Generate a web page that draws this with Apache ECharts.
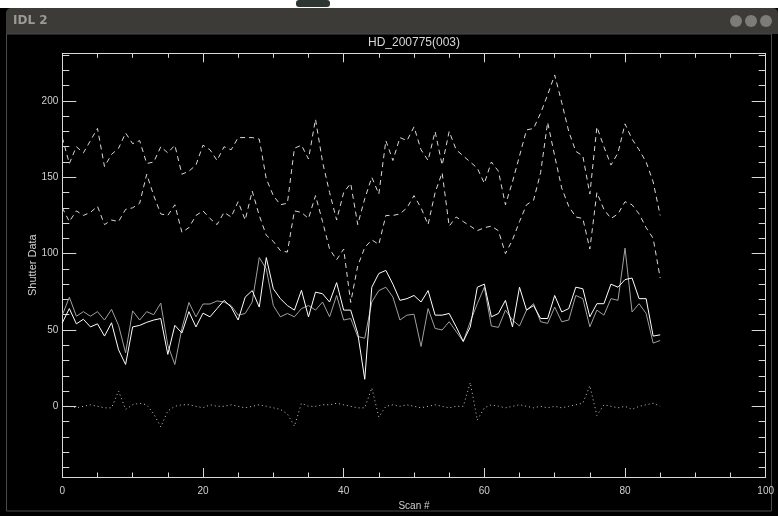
<!DOCTYPE html>
<html><head><meta charset="utf-8">
<script src="https://cdn.jsdelivr.net/npm/echarts@6/dist/echarts.min.js"></script>
<style>html,body{margin:0;padding:0;background:#ffffff}#c{width:778px;height:516px}</style>
</head><body><div id="c"></div>
<script>
const scan = [0,1,2,3,4,5,6,7,8,9,10,11,12,13,14,15,16,17,18,19,20,21,22,23,24,25,26,27,28,29,30,31,32,33,34,35,36,37,38,39,40,41,42,43,44,45,46,47,48,49,50,51,52,53,54,55,56,57,58,59,60,61,62,63,64,65,66,67,68,69,70,71,72,73,74,75,76,77,78,79,80,81,82,83,84,85];
const upperDashed = [176,159,170,166,174,182,157,165,169,179,172,174,159,160,170,166,171,152,154,158,171,168,161,170,168,176,176,176,175,149,138,132,133,169,171,162,188,160,140,122,140,146,119,136,150,139,174,161,176,174,183,168,161,180,158,180,168,164,160,156,146,160,154,132,147,164,181,182,192,204,217,199,180,167,164,139,183,170,158,166,185,175,168,160,147,125];
const lowerDashed = [130,121,128,125,127,131,119,122,121,129,130,133,152,138,126,125,132,114,117,125,128,123,119,127,124,134,122,141,125,112,108,102,101,128,127,123,138,121,103,96,103,68,92,104,109,106,125,125,126,130,138,130,119,140,153,118,124,121,118,115,117,118,115,100,109,121,132,135,153,186,164,143,131,124,123,103,140,129,123,126,134,132,126,117,110,84];
const whiteLine = [54.7,64,54,57,52,54,46,54.7,37,27.4,52,53,55,56.5,57.5,34,53,48,62,52,61,58.6,64,69.4,65,56.5,71.5,75.8,65,97.4,77,70.5,66,63,76,58.6,74.8,73.7,68.3,81,63,63,47.8,17.7,78,87,89,80,69.4,70.5,72.6,68.3,75.8,59.7,59.7,60.8,52,42.5,52,78,80,58.6,60.8,69.4,52,78,63,66,57.5,57.5,72.6,61.8,64,78,77,58.6,67.2,67.2,80,78,83,84,70.5,70.5,46,46.8];
const grayLine = [59.7,71.5,59,62,59,62,56.5,63.5,53,35,62.5,56.5,62,60,67.6,40,27.4,51,68,58.6,67,67,69,68.3,66,59.7,60.8,68.3,97.4,90,66,58.6,60.8,58.6,64,66,63,68.3,58.6,72.6,56.5,57.5,45.7,44.6,68.3,75.8,78,71.6,56.5,59.7,60.3,39.2,64,51,50,55.4,48.9,42.5,55.4,67.2,78,52.6,51.7,63,56.5,52.6,63,67.2,55.4,54.3,65,55.4,56.5,72.6,70.5,52.1,63,59.7,70.5,69.4,103.6,61.8,67.2,60.8,41.4,43.1];
const dotted = [0,0,-1,0,1,0,-1,-1,10,-2,1,2,1,-5,-13.5,-3,0,1,1,0,-1,1,0,0,1,0,-1,0,1,0,-1,-2,-5,-13,2,0,0,1,1,2,1,0,-1,-1,12,-7,0,1,0,1,0,-1,0,1,0,-1,0,0,15.5,-9,-1,1,0,-1,0,1,0,-1,0,-1,0,-1,0,1,2,13.5,-6,1,0,-1,0,-2,0,1,2,0];
const xTickValues = [0,20,40,60,80,100];
const yMajorTicks = [0,50,100,150,200];
const yMinorTicks = [-40,-30,-20,-10,10,20,30,40,60,70,80,90,110,120,130,140,160,170,180,190,210,220,230];
const plotTitle = 'HD_200775(003)';
const xName = 'Scan #';
const yName = 'Shutter Data';
const windowTitle = 'IDL 2';

const AX = '#d8d8d8';
const FONT = 'Liberation Sans';
const Y_MIN = -46.3, Y_MAX = 231.2;
function pairs(arr){ return scan.map((s,k)=>[s,arr[k]]); }

const chart = echarts.init(document.getElementById('c'), null, {renderer:'canvas'});
function xAx(pos, showLabel){
  return {type:'value', position:pos, min:0, max:100, interval:20,
    axisLine:{show:true, onZero:false, lineStyle:{color:AX, width:1}},
    axisTick:{show:true, inside:true, length:9, lineStyle:{color:AX}},
    minorTick:{show:true, splitNumber:4, length:4.5, lineStyle:{color:AX}},
    axisLabel:{show:showLabel, margin:9, color:'#d0d0d0', fontFamily:FONT, fontSize:10},
    splitLine:{show:false}, minorSplitLine:{show:false},
    name: showLabel ? xName : '', nameLocation:'middle', nameGap:24, nameMoveOverlap:false,
    nameTextStyle:{color:'#d0d0d0', fontFamily:FONT, fontSize:10}
  };
}
function yAx(pos, ticks, len, showLine, showLabel){
  return {type:'value', position:pos, min:Y_MIN, max:Y_MAX,
    axisLine:{show:showLine, onZero:false, lineStyle:{color:AX, width:1}},
    axisTick:{show:true, inside:true, length:len, customValues:ticks, lineStyle:{color:AX}},
    axisLabel:{show:showLabel, customValues:yMajorTicks, margin:4, color:'#d0d0d0', fontFamily:FONT, fontSize:10},
    splitLine:{show:false},
    name: showLabel ? yName : '', nameLocation:'middle', nameGap:24, nameRotate:90, nameMoveOverlap:false,
    nameTextStyle:{color:'#d0d0d0', fontFamily:FONT, fontSize:11}
  };
}
function line(data, color, type){
  return {type:'line', data:pairs(data), xAxisIndex:0, yAxisIndex:0, symbol:'none', silent:true,
    lineStyle:{color:color, width:1, type:type}, z:3};
}
chart.setOption({
  animation:false,
  backgroundColor:'#ffffff',
  grid:{left:62.3, top:53.3, right:12.3, bottom:33.7, containLabel:false},
  xAxis:[xAx('bottom', true), xAx('top', false)],
  yAxis:[yAx('left', yMajorTicks, 14, true, true), yAx('left', yMinorTicks, 7, false, false),
         yAx('right', yMajorTicks, 14, true, false), yAx('right', yMinorTicks, 7, false, false)],
  graphic:[
    {type:'rect', z:-10, shape:{x:0, y:0, width:778, height:516}, style:{fill:'#ffffff'}},
    {type:'rect', z:-9, shape:{x:296, y:0, width:34, height:7, r:3}, style:{fill:'#2e3632'}},
    {type:'rect', z:-9, shape:{x:0, y:8, width:778, height:508}, style:{fill:'#000000'}},
    {type:'rect', z:-8, shape:{x:6, y:8, width:772, height:26, r:[5,5,0,0]}, style:{fill:'#3c3b37'}},
    {type:'rect', z:-8, shape:{x:6.5, y:34, width:765, height:477}, style:{fill:'#000000', stroke:'#4a4a4a', lineWidth:1}},
    {type:'text', z:5, x:13, y:21, style:{text:windowTitle, fill:'#9a9a96', font:'bold 12px "DejaVu Sans"', textVerticalAlign:'middle'}},
    {type:'circle', z:5, shape:{cx:736, cy:21, r:6}, style:{fill:'#7d7c78'}},
    {type:'circle', z:5, shape:{cx:751, cy:21, r:6}, style:{fill:'#7d7c78'}},
    {type:'circle', z:5, shape:{cx:766, cy:21, r:6}, style:{fill:'#7d7c78'}},
    {type:'text', z:6, x:414, y:43, style:{text:plotTitle, fill:'#d8d8d8', font:'12px "Liberation Sans"', textAlign:'center', textVerticalAlign:'middle'}}
  ],
  series:[
    line(upperDashed, '#d8d8d8', [5,4]),
    line(lowerDashed, '#d8d8d8', [5,4]),
    line(grayLine, '#a0a0a0', 'solid'),
    line(whiteLine, '#ffffff', 'solid'),
    line(dotted, '#c8c8c8', [1,3])
  ]
});
</script></body></html>
